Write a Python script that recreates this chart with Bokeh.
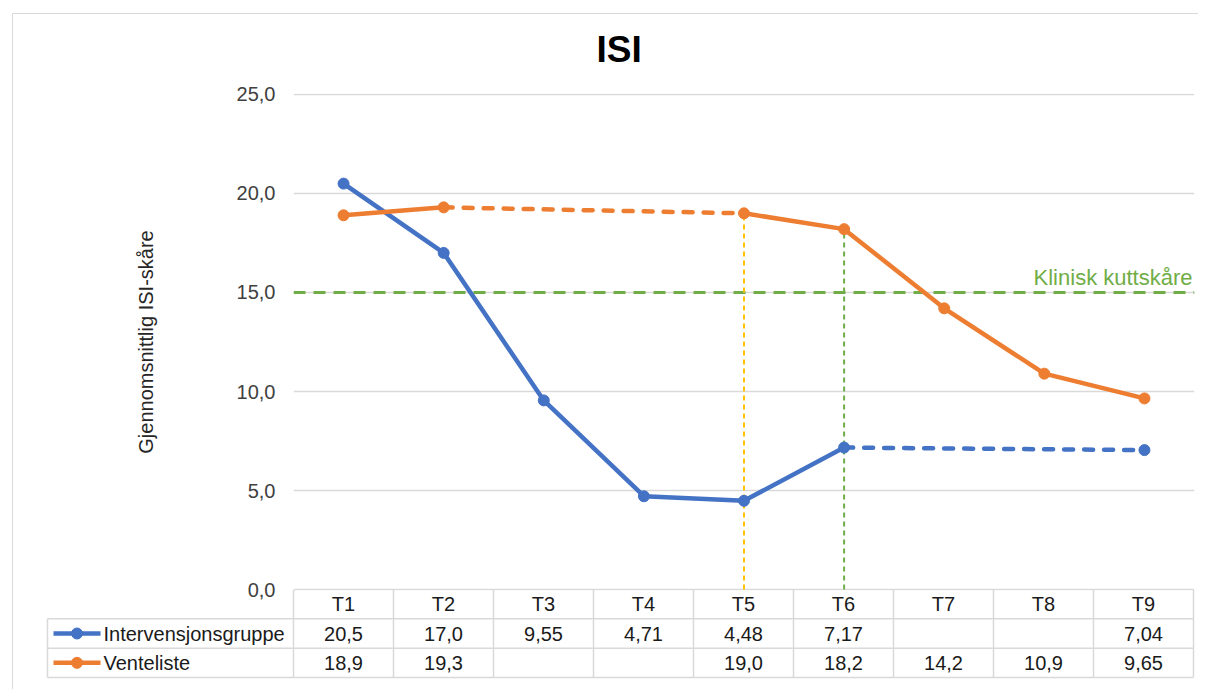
from bokeh.plotting import figure
from bokeh.models import FactorRange, Range1d, FixedTicker, Span, Label
from bokeh.embed import file_html
from bokeh.resources import INLINE
from bokeh.core.properties import value

# ---------------- data ----------------
categories = ["T1", "T2", "T3", "T4", "T5", "T6", "T7", "T8", "T9"]
series_names = ["Intervensjonsgruppe", "Venteliste"]
intervensjon = [20.5, 17.0, 9.55, 4.71, 4.48, 7.17, None, None, 7.04]
venteliste = [18.9, 19.3, None, None, 19.0, 18.2, 14.2, 10.9, 9.65]
y_ticks = [0, 5, 10, 15, 20, 25]
y_tick_labels = ["0,0", "5,0", "10,0", "15,0", "20,0", "25,0"]
cutoff_value = 15.0
cutoff_label = "Klinisk kuttskåre"
title_text = "ISI"
y_title = "Gjennomsnittlig ISI-skåre"

BLUE = "#4472C4"
ORANGE = "#ED7D31"
GREEN = "#70AD47"
YELLOW = "#FFC000"
GRID = "#d9d9d9"
FONT = "Liberation Sans"
NAN = float("nan")


def fmt(v):
    if v is None:
        return ""
    s = f"{v:.1f}" if v >= 10 else f"{v:.2f}"
    return s.replace(".", ",")


def solid(vals):
    return [NAN if v is None else v for v in vals]


def bridges(vals):
    idx = [i for i, v in enumerate(vals) if v is not None]
    segs = []
    for a, b in zip(idx[:-1], idx[1:]):
        if b > a + 1:
            segs.append((categories[a], vals[a], categories[b], vals[b]))
    return segs


LINE = "linear-gradient(#d9d9d9, #d9d9d9)"

# ---------------- main plot ----------------
p1 = figure(width=1198, height=601, x_range=FactorRange(*categories),
            y_range=Range1d(-0.0505, 25.0505), output_backend="svg",
            toolbar_location=None, title=title_text,
            min_border_left=293, min_border_right=4, min_border_top=93,
            min_border_bottom=11,
            styles={"background": f"{LINE} 12px 13px / 1px 100% no-repeat, "
                                  f"{LINE} 12px 13px / 100% 1px no-repeat"})
p1.outline_line_color = None
p1.border_fill_color = None
p1.title.align = "left"
p1.title.offset = 303
p1.title.standoff = 47
p1.title.text_font = FONT
p1.title.text_font_size = "37px"
p1.title.text_font_style = "bold"
p1.title.text_color = "#000000"
p1.xaxis.visible = False
p1.xgrid.grid_line_color = None
p1.ygrid.grid_line_color = GRID
p1.ygrid.grid_line_width = 1.5
p1.yaxis.ticker = FixedTicker(ticks=y_ticks)
p1.yaxis.major_label_overrides = {t: l for t, l in zip(y_ticks, y_tick_labels)}
p1.yaxis.axis_line_color = None
p1.yaxis.major_tick_line_color = None
p1.yaxis.minor_tick_line_color = None
p1.yaxis.major_label_standoff = 12
p1.yaxis.major_label_text_font = FONT
p1.yaxis.major_label_text_font_size = "20px"
p1.yaxis.major_label_text_color = "#404040"
p1.yaxis.axis_label = y_title
p1.yaxis.axis_label_text_font = FONT
p1.yaxis.axis_label_text_font_style = "normal"
p1.yaxis.axis_label_text_font_size = "20px"
p1.yaxis.axis_label_text_color = "#262626"
p1.yaxis.axis_label_standoff = 77

# clinical cutoff
p1.add_layout(Span(location=cutoff_value, dimension="width", line_color=GREEN,
                   line_width=3, line_dash="12 8", level="underlay"))
p1.add_layout(Label(x=9, y=cutoff_value + 0.75, x_offset=-2, text=cutoff_label,
                    text_align="right", text_baseline="alphabetic",
                    text_font=FONT, text_font_size="22px", text_color=GREEN))

# vertical guide lines at T5 and T6
p1.segment(x0=[categories[4]], y0=[0], x1=[categories[4]], y1=[venteliste[4]],
           line_color=YELLOW, line_width=2, line_dash="5 4")
p1.segment(x0=[categories[5]], y0=[0], x1=[categories[5]], y1=[venteliste[5]],
           line_color=GREEN, line_width=2, line_dash="5 4")

for vals, col in ((intervensjon, BLUE), (venteliste, ORANGE)):
    p1.line(categories, solid(vals), line_color=col, line_width=4.5,
            line_join="round", line_cap="round")
    for x0, y0, x1, y1 in bridges(vals):
        p1.line([x0, x1], [y0, y1], line_color=col, line_width=4.5,
                line_dash="9 11", line_cap="round")
    xs = [c for c, v in zip(categories, vals) if v is not None]
    ys = [v for v in vals if v is not None]
    p1.scatter(xs, ys, size=11, fill_color=col, line_color=col)

# ---------------- data table ----------------
LEG_LEFT = -2.46
p2 = figure(width=1198, height=100, x_range=Range1d(-2.93, 9.05),
            y_range=Range1d(-0.409, 3.0), output_backend="svg",
            toolbar_location=None, min_border=0, min_border_left=0,
            min_border_right=0, min_border_top=0, min_border_bottom=0,
            styles={"margin-top": "-12px",
                    "background": f"{LINE} 12px 0px / 1px 100% no-repeat"})
p2.outline_line_color = None
p2.background_fill_color = None
p2.border_fill_color = None
p2.axis.visible = False
p2.grid.visible = False

n = len(categories)
p2.segment(x0=[LEG_LEFT] * 3, y0=[0, 1, 2], x1=[n] * 3, y1=[0, 1, 2],
           line_color=GRID, line_width=1.5)
p2.segment(x0=list(range(n + 1)), y0=[0] * (n + 1), x1=list(range(n + 1)),
           y1=[3] * (n + 1), line_color=GRID, line_width=1.5)
p2.segment(x0=[LEG_LEFT], y0=[0], x1=[LEG_LEFT], y1=[2], line_color=GRID,
           line_width=1.5)

centers = [i + 0.5 for i in range(n)]
p2.text(x=centers, y=[2.5] * n, text=categories, text_align="center",
        text_baseline="middle", text_font=value(FONT), text_font_size="20px",
        text_color="#1a1a1a")
for row_y, vals, col, name in ((1.5, intervensjon, BLUE, series_names[0]),
                               (0.5, venteliste, ORANGE, series_names[1])):
    p2.text(x=centers, y=[row_y] * n, text=[fmt(v) for v in vals],
            text_align="center", text_baseline="middle", text_font=value(FONT),
            text_font_size="20px", text_color="#1a1a1a")
    p2.line([-2.40, -1.93], [row_y, row_y], line_color=col, line_width=4.5)
    p2.scatter([-2.165], [row_y], size=11, fill_color=col, line_color=col)
    p2.text(x=[-1.90], y=[row_y], text=[name], text_align="left",
            text_baseline="middle", text_font=value(FONT),
            text_font_size="20px", text_color="#1a1a1a")

open("out.html", "w").write(file_html([p1, p2], INLINE))
